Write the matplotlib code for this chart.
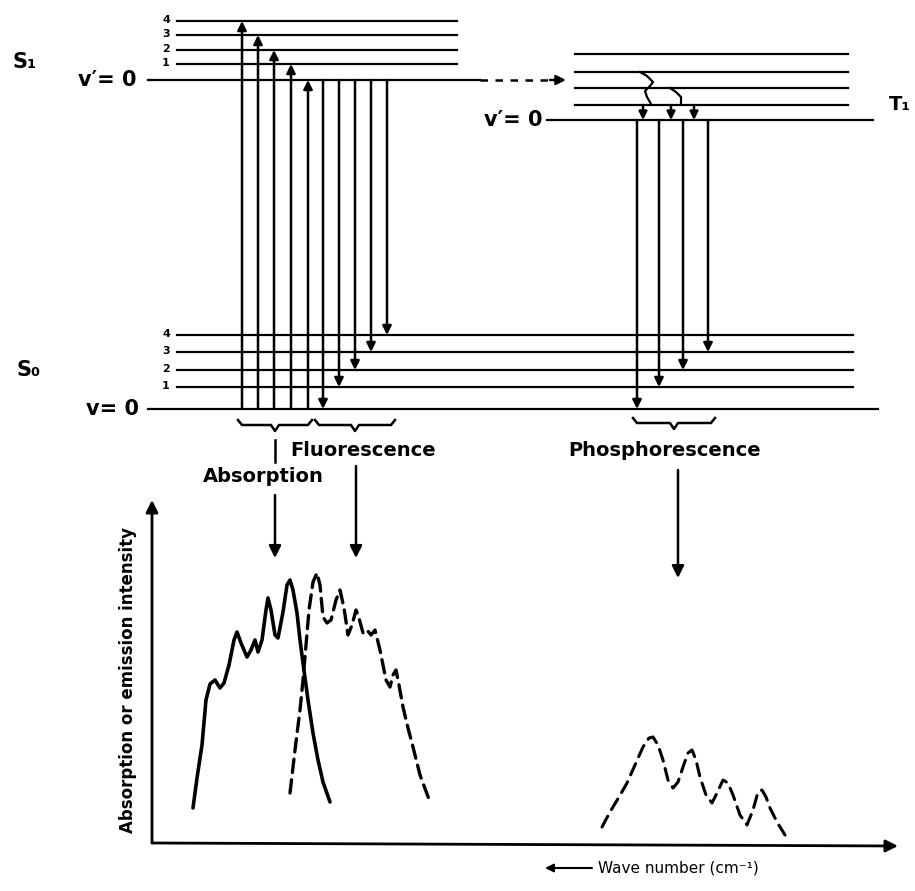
import matplotlib
matplotlib.use("Agg")
import matplotlib.pyplot as plt

# energy levels (y in picture units, v = 0 first)
s1_levels = [80, 64, 50, 35, 21]
s0_levels = [409, 387, 370, 352, 335]
t1_levels = [120, 105, 88, 72, 54]

# transitions
absorption_x = [308, 291, 274, 258, 242]     # v=0 -> S1 level i
fluorescence_x = [323, 339, 355, 371, 387]   # S1 v'=0 -> S0 level i
phosphorescence_x = [637, 659, 683, 708]     # T1 v'=0 -> S0 level i
isc_x = [643, 671, 694]                      # small arrows onto T1 v'=0

# spectra
abs_x = [193, 197, 202, 206, 210, 215, 220, 224, 229, 234, 237, 241, 247, 251, 255, 258,
         262, 266, 268, 271, 275, 278, 283, 287, 290, 293, 297, 300, 303, 308, 313, 318, 323, 330]
abs_y = [808, 778, 745, 700, 684, 680, 688, 683, 665, 640, 632, 643, 657, 650, 640, 652,
         640, 610, 598, 610, 635, 638, 612, 585, 580, 590, 613, 640, 663, 700, 733, 760, 782, 802]
flu_x = [290, 295, 300, 303, 306, 309, 313, 317, 320, 323, 327, 331, 336, 340, 344, 348,
         352, 356, 359, 363, 367, 371, 375, 380, 386, 390, 393, 396, 399, 403, 408, 413, 420, 430]
flu_y = [793, 750, 710, 680, 645, 610, 582, 573, 585, 617, 623, 620, 600, 590, 608, 635,
         625, 610, 618, 633, 630, 635, 630, 650, 680, 687, 675, 670, 685, 707, 728, 747, 775, 802]
pho_x = [602, 610, 619, 627, 635, 643, 649, 653, 658, 663, 668, 673, 678, 683, 688, 692,
         696, 700, 706, 712, 717, 723, 728, 733, 740, 747, 753, 758, 762, 766, 770, 777, 785]
pho_y = [827, 812, 797, 783, 765, 747, 738, 737, 745, 760, 780, 788, 782, 767, 753, 750,
         760, 777, 795, 803, 793, 780, 783, 795, 815, 825, 810, 792, 790, 797, 808, 822, 835]

fig = plt.figure(figsize=(9.15, 8.91), dpi=100)
ax = fig.add_axes([0, 0, 1, 1])
ax.set_xlim(0, 915)
ax.set_ylim(891, 0)
ax.set_axis_off()

K = 'black'
FONT = 'DejaVu Sans'


def arrow(x0, y0, x1, y1, lw=1.8, ms=13):
    ax.annotate('', xy=(x1, y1), xytext=(x0, y0),
                arrowprops=dict(arrowstyle='-|>', color=K, lw=lw, mutation_scale=ms,
                                shrinkA=0, shrinkB=0))


def brace(x0, x1, y, tip):
    ax.plot([x0, x0 + 4, tip - 4, tip, tip + 4, x1 - 4, x1],
            [y - 5, y, y, y + 6, y, y, y - 5], color=K, lw=1.8, solid_joinstyle='round')


# level lines
for i, y in enumerate(s1_levels):
    ax.plot([148, 480] if i == 0 else [177, 457], [y, y], color=K, lw=1.6)
for i, y in enumerate(s0_levels):
    ax.plot([148, 878] if i == 0 else [177, 853], [y, y], color=K, lw=1.6)
for i, y in enumerate(t1_levels):
    ax.plot([547, 873] if i == 0 else [575, 848], [y, y], color=K, lw=1.6)

# level numbers
for i in range(1, 5):
    ax.text(166, s1_levels[i] - 1, str(i), fontsize=8, fontweight='bold', family=FONT,
            ha='center', va='center')
    ax.text(166, s0_levels[i] - 1, str(i), fontsize=8, fontweight='bold', family=FONT,
            ha='center', va='center')

# intersystem crossing dashed arrow
ax.plot([480, 555], [s1_levels[0], s1_levels[0]], color=K, lw=1.8, ls=(0, (3, 3)))
arrow(550, s1_levels[0], 566, s1_levels[0], ms=14)

# absorption
for x, y in zip(absorption_x, s1_levels):
    arrow(x, s0_levels[0], x, y)
# fluorescence
for x, y in zip(fluorescence_x, s0_levels):
    arrow(x, s1_levels[0], x, y)
# phosphorescence
for x, y in zip(phosphorescence_x, s0_levels):
    arrow(x, t1_levels[0], x, y)

# vibrational relaxation in T1
ax.plot([640, 647, 653, 650, 645, 647, 651], [72, 76, 82, 86, 91, 97, 104], color=K, lw=1.6)
ax.plot([670, 676, 681, 681], [88, 92, 97, 104], color=K, lw=1.6)
for x in isc_x:
    arrow(x, t1_levels[1], x, t1_levels[0], ms=12)

# state labels
ax.text(12, 62, 'S₁', fontsize=15, fontweight='bold', family=FONT, va='center')
ax.text(78, 80, 'v′= 0', fontsize=15, fontweight='bold', family=FONT, va='center')
ax.text(17, 370, 'S₀', fontsize=15, fontweight='bold', family=FONT, va='center')
ax.text(86, 409, 'v= 0', fontsize=15, fontweight='bold', family=FONT, va='center')
ax.text(484, 120, 'v′= 0', fontsize=15, fontweight='bold', family=FONT, va='center')
ax.text(911, 104, 'T₁', fontsize=14, fontweight='bold', family=FONT, va='center', ha='right')

# braces and labels
brace(238, 312, 425, 275)
brace(315, 395, 425, 355)
brace(633, 715, 423, 674)
ax.plot([275, 275], [440, 462], color=K, lw=1.8)
ax.text(290, 451, 'Fluorescence', fontsize=14, fontweight='bold', family=FONT, va='center')
ax.text(203, 477, 'Absorption', fontsize=14, fontweight='bold', family=FONT, va='center')
ax.text(665, 450, 'Phosphorescence', fontsize=14, fontweight='bold', family=FONT,
        va='center', ha='center')
arrow(275, 495, 275, 558, ms=18)
arrow(356, 466, 356, 558, ms=18)
arrow(678, 470, 678, 578, ms=18)

# spectrum axes
arrow(152, 843, 152, 500, lw=2, ms=18)
arrow(152, 843, 898, 846, lw=2, ms=18)
ax.text(128, 680, 'Absorption or emission intensity', fontsize=12, fontweight='bold',
        family=FONT, rotation=90, ha='center', va='center')
arrow(592, 868, 545, 868, lw=1.5, ms=12)
ax.text(598, 868, 'Wave number (cm⁻¹)', fontsize=11, family=FONT, va='center')

# spectra
ax.plot(abs_x, abs_y, color=K, lw=2.6, solid_joinstyle='round', solid_capstyle='round')
ax.plot(flu_x, flu_y, color=K, lw=2.4, ls=(0, (4, 2.2)), dash_capstyle='round')
ax.plot(pho_x, pho_y, color=K, lw=2.2, ls=(0, (4, 2.5)), dash_capstyle='round')

fig.savefig('out.png', dpi=100)
